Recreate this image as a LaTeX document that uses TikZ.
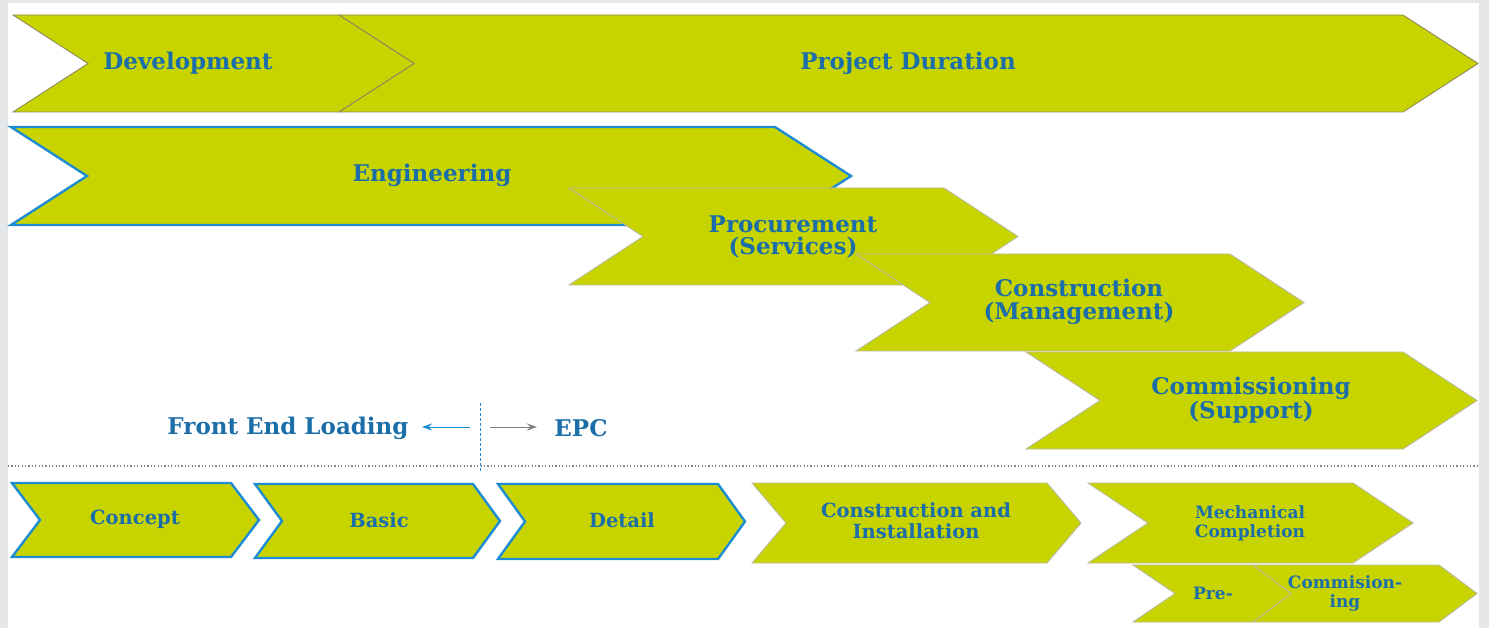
\documentclass[tikz,border=0pt]{standalone}
\usepackage{xcolor}
\usepackage{tikz}
\usepackage{fontspec}
\setmainfont{DejaVu Serif}
\usetikzlibrary{calc,arrows.meta}
\tikzset{>={Stealth[length=10pt,width=7pt]}}

\definecolor{lime}{RGB}{200,212,0}
\definecolor{txtblue}{RGB}{27,110,168}
\definecolor{edgeblue}{RGB}{30,140,210}
\definecolor{edgeolive}{RGB}{140,138,90}
\definecolor{edgegrey}{RGB}{185,185,160}
\definecolor{framegrey}{RGB}{230,231,233}

\tikzset{
  phase/.style={fill=lime, draw=edgeolive, line width=0.9pt},
  phaseblue/.style={fill=lime, draw=edgeblue, line width=2.4pt, line join=miter},
  phasegrey/.style={fill=lime, draw=edgegrey, line width=0.9pt},
  bigtxt/.style={text=txtblue, font=\bfseries\fontsize{23}{22.5}\selectfont, align=center, inner sep=0pt},
  midtxt/.style={text=txtblue, font=\bfseries\fontsize{19.5}{21}\selectfont, align=center, inner sep=0pt},
  smalltxt/.style={text=txtblue, font=\bfseries\fontsize{17}{19}\selectfont, align=center, inner sep=0pt}
}

% chevron: style, left x, tip x, top y, bottom y, depth
\newcommand\chevron[6]{%
  \draw[#1] (#2,#4) -- ({#3-#6},#4) -- (#3,{(#4+#5)/2}) -- ({#3-#6},#5)
    -- (#2,#5) -- ({#2+#6},{(#4+#5)/2}) -- cycle;}

\begin{document}
\begin{tikzpicture}[x=1pt,y=-1pt]
\useasboundingbox (0,0) rectangle (1489,628);
\fill[framegrey] (0,0) rectangle (1489,628);
\fill[white] (8,3) rectangle (1479,628);

% top bands
\chevron{phase}{339}{1478}{15}{112}{75}
\chevron{phase}{13}{414}{15}{112}{75}
\node[bigtxt] (dev) at (188,63) {Development};
\node[bigtxt] (dur) at (908,63) {Project Duration};

% staggered phases
\chevron{phaseblue}{11}{851}{127}{225}{76}
\node[bigtxt] (eng) at (432,175) {Engineering};
\chevron{phasegrey}{569}{1018}{188}{285}{74}
\node[bigtxt] (proc) at (793,237) {Procurement\\(Services)};
\chevron{phasegrey}{856}{1304}{254}{351}{74}
\node[bigtxt] (cons) at (1079,302) {Construction\\(Management)};
\chevron{phasegrey}{1026}{1477}{352}{449}{74}
\node[bigtxt] (comm) at (1251,400) {Commissioning\\(Support)};

% split between front end and epc
\node[bigtxt] (fel) at (288,428) {Front End Loading};
\node[bigtxt] (epc) at (581,428) {EPC};
\coordinate (split) at (480,427);
\coordinate (felend) at (422,427);
\coordinate (epcend) at (537,427);
\draw[edgeblue, line width=0.8pt, dashed, dash pattern=on 3pt off 2pt] (480,403) -- (480,472);
\draw[->, edgeblue, line width=1pt] ([xshift=-10pt]split) -- (felend);
\draw[->, gray, line width=1pt] ([xshift=10pt]split) -- (epcend);
\draw[gray, line width=1.2pt, dash pattern=on 1.2pt off 2.2pt] (8,466) -- (1478,466);

% bottom row
\chevron{phaseblue}{12}{259}{483}{557}{28}
\chevron{phaseblue}{255}{500}{484}{558}{27}
\chevron{phaseblue}{498}{745}{484}{559}{27}
\node[midtxt] (concept) at (135,519) {Concept};
\node[midtxt] (basic) at (379,520) {Basic};
\node[midtxt] (detail) at (622,520) {Detail};
\chevron{phasegrey}{752}{1081}{483}{563}{34}
\node[midtxt] (cni) at (916,521) {Construction and\\Installation};
\chevron{phasegrey}{1088}{1413}{483}{563}{60}
\node[smalltxt] (mc) at (1250,523) {Mechanical\\Completion};
\chevron{phasegrey}{1133}{1295}{565}{622}{42}
\chevron{phasegrey}{1253}{1477}{565}{622}{38}
\node[smalltxt] (pre) at (1213,593) {Pre-};
\node[smalltxt] (pcomm) at (1345,593) {Commision-\\ing};
\end{tikzpicture}
\end{document}
